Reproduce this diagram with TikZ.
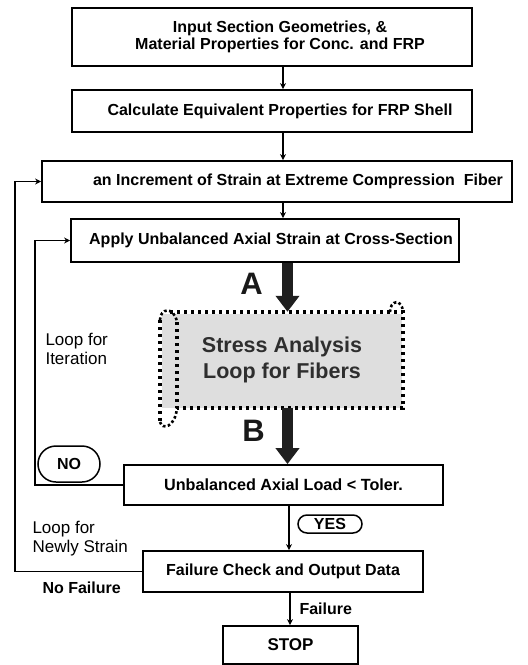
\documentclass[tikz,border=0pt]{standalone}
\usepackage{fontspec}
\setmainfont{Liberation Sans}
\usetikzlibrary{arrows.meta,shapes.misc}
\begin{document}
\begin{tikzpicture}[x=1pt,y=-1pt,
  box/.style={draw,line width=1.8pt,align=center,font=\fontsize{16}{20}\selectfont\bfseries,inner sep=0pt},
  arr/.style={line width=1.5pt,-{Stealth[length=6pt,width=6pt]}},
  bigarr/.style={line width=11pt,-{Triangle[length=16pt,width=23pt]},black!88},
  pill/.style={draw,line width=1.5pt,rounded rectangle,font=\fontsize{16}{18}\selectfont\bfseries,inner sep=0pt},
  lbl/.style={font=\fontsize{17}{19}\selectfont,align=left,anchor=west},
  bl/.style={font=\fontsize{16}{18}\selectfont\bfseries,anchor=west},
  big/.style={font=\fontsize{31}{34}\selectfont\bfseries,text=black!90},
  dots/.style={line width=3.4pt,dash pattern=on 3.4pt off 3.6pt}]
\useasboundingbox (0,0) rectangle (528,665);
\coordinate (cx) at (283,0);
\coordinate (ca) at (287.5,0);
\node[box,minimum width=400,minimum height=58,font=\fontsize{16}{16.5}\selectfont\bfseries] (b1) at (272,37) {\hspace*{16pt}Input Section Geometries, \&\\\hspace*{16pt}Material Properties for Conc. and FRP};
\node[box,minimum width=400,minimum height=42] (b2) at (272,111) {\hspace*{16pt}Calculate Equivalent Properties for FRP Shell};
\node[box,minimum width=470,minimum height=41] (b3) at (277,181.5) {\hspace*{42pt}an Increment of Strain at Extreme Compression\ \ Fiber};
\node[box,minimum width=388,minimum height=43] (b4) at (265,240.5) {\hspace*{12pt}Apply Unbalanced Axial Strain at Cross-Section};
% dotted scroll box
\fill[black!13] (162,314) rectangle (402,408);
\node[minimum width=243,minimum height=96,inner sep=0pt,align=center,font=\fontsize{21.5}{26}\selectfont\bfseries,text=black!82] (sa) at (282,360) {Stress Analysis\\Loop for Fibers};
\draw[dots] (170,312) -- (403,312) -- (403,408) -- (177,408);
\draw[dots] (160,320) -- (160,422);
\draw[dots] (177,322) -- (177,408);
\draw[line width=2.6pt,dash pattern=on 2.6pt off 2.4pt] (160,320) .. controls (160,308) and (174,306) .. (177,322);
\draw[line width=2.6pt,dash pattern=on 2.6pt off 2.4pt] (160,422) .. controls (162,430) and (175,428) .. (177,408);
\draw[line width=2.6pt,dash pattern=on 2.6pt off 2.4pt] (390,312) .. controls (390,300) and (402,298) .. (403,312);
\node[box,minimum width=319,minimum height=40,font=\fontsize{16.2}{20}\selectfont\bfseries] (b5) at (283.5,485) {Unbalanced Axial Load < Toler.};
\node[box,minimum width=280,minimum height=41] (b6) at (283,571.5) {Failure Check and Output Data};
\node[box,minimum width=135,minimum height=38,font=\fontsize{17}{20}\selectfont\bfseries] (b7) at (290.5,645) {STOP};
% straight connectors
\draw[arr] (b1.south -| cx) -- (b2.north -| cx);
\draw[arr] (b2.south -| cx) -- (b3.north -| cx);
\draw[arr] (b3.south -| cx) -- (b4.north -| cx);
\draw[bigarr] (b4.south -| ca) -- (sa.north -| ca);
\draw[bigarr] (sa.south -| ca) -- (b5.north -| ca);
\node[big] (la) at (251.5,284) {A};
\node[big] (lb) at (253.5,431) {B};
\coordinate (cy) at (289,0);
\draw[arr] (b5.south -| cy) -- (b6.north -| cy);
\coordinate (cz) at (290,0);
\draw[arr] (b6.south -| cz) -- (b7.north -| cz);
% loops
\coordinate (li) at (35,0);
\draw[arr] (b5.west) -- (b5.west -| li) -- (b4.west -| li) -- (b4.west);
\coordinate (lo) at (15,0);
\draw[arr] (b6.west) -- (b6.west -| lo) -- (b3.west -| lo) -- (b3.west);
% pills and labels
\node[pill,minimum width=62,minimum height=36] (no) at (69,464) {NO};
\node[pill,minimum width=64,minimum height=18] (yes) at (330,524) {YES};
\node[lbl] (t1) at (42,349) {Loop for\\Iteration};
\node[lbl] (t2) at (29,539) {Loop for\\Newly Strain};
\node[bl] (t3) at (39,588) {No Failure};
\node[bl] (t4) at (296,609) {Failure};
\end{tikzpicture}
\end{document}
